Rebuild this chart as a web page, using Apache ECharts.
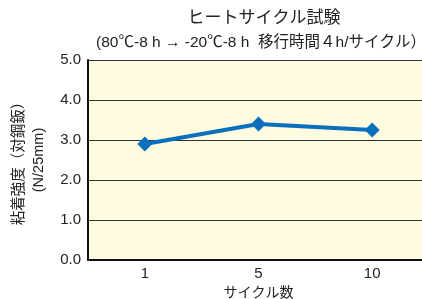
<!DOCTYPE html>
<html><head><meta charset="utf-8">
<script src="https://cdn.jsdelivr.net/npm/echarts@6/dist/echarts.min.js"></script>
<style>html,body{margin:0;padding:0;background:#fff}#c{width:422px;height:299px}</style>
</head><body><div id="c"></div>
<script>
const categories = ['1', '5', '10'];
const values = [2.9, 3.4, 3.25];
const yTicks = [0, 1, 2, 3, 4, 5];
const titleText = 'ヒートサイクル試験';
const subtitleText = '(80℃-8 h → -20℃-8 h  移行時間４h/サイクル）';
const xName = 'サイクル数';
const yName = '粘着強度（対鋼鈑）\n(N/25mm)';

const FONT = '"Liberation Sans", "Noto Sans CJK JP", sans-serif';
const chart = echarts.init(document.getElementById('c'));
chart.setOption({
  animation: false,
  title: [
    {text: titleText, left: 259, top: 5, textAlign: 'center',
     textStyle: {fontFamily: FONT, fontSize: 17, fontWeight: 'normal', color: '#222'}},
    {text: subtitleText, left: 256, top: 30, textAlign: 'center',
     textStyle: {fontFamily: FONT, fontSize: 15.5, fontWeight: 'normal', color: '#222'}}
  ],
  grid: {left: 88, top: 60, width: 341, bottom: 39, show: true,
         backgroundColor: '#fffbe0', borderWidth: 0, outerBoundsMode: 'none', containLabel: false},
  xAxis: {
    type: 'category', data: categories, boundaryGap: true,
    name: xName, nameLocation: 'middle', nameGap: 26,
    nameTextStyle: {fontFamily: FONT, fontSize: 14, color: '#222'},
    axisLine: {lineStyle: {color: '#111', width: 2}},
    axisTick: {inside: true, length: 5, lineStyle: {color: '#111', width: 1.5}},
    axisLabel: {fontFamily: FONT, fontSize: 15, color: '#222', margin: 6}
  },
  yAxis: {
    type: 'value', min: yTicks[0], max: yTicks[yTicks.length - 1], interval: 1,
    name: yName, nameLocation: 'middle', nameRotate: 90, nameGap: 33,
    nameTextStyle: {fontFamily: FONT, fontSize: 14.5, color: '#222', lineHeight: 20},
    axisLine: {show: true, lineStyle: {color: '#111', width: 2}},
    axisTick: {show: false},
    splitLine: {lineStyle: {color: '#333', width: 1}},
    axisLabel: {fontFamily: FONT, fontSize: 15, color: '#222', margin: 7,
                formatter: v => v.toFixed(1)}
  },
  series: [{
    type: 'line', data: values,
    lineStyle: {color: '#0a6fbc', width: 4},
    itemStyle: {color: '#0a6fbc'},
    symbol: 'diamond', symbolSize: 15
  }]
});
</script></body></html>
